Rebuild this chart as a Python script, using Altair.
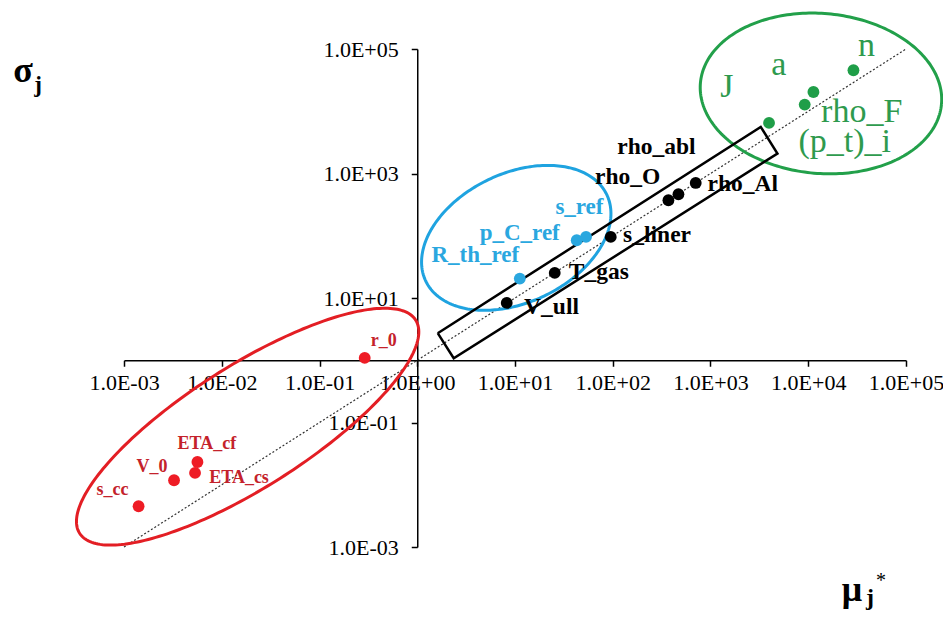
import numpy as np
import pandas as pd
import altair as alt

# ---------------- geometry ----------------
W, H = 782, 498
PAD = {"left": 116, "top": 41, "right": 37, "bottom": 65}
PPD_X = W / 8.0   # pixels per decade
PPD_Y = H / 8.0
FONT = "Liberation Serif"

# ---------------- data ----------------
x_ticks = [1e-3, 1e-2, 1e-1, 1e0, 1e1, 1e2, 1e3, 1e4, 1e5]
y_ticks = [1e-3, 1e-1, 1e1, 1e3, 1e5]

names = ["s_cc", "V_0", "ETA_cs", "ETA_cf", "r_0",
         "R_th_ref", "p_C_ref", "s_ref",
         "V_ull", "T_gas", "s_liner", "rho_O", "rho_abl", "rho_Al",
         "(p_t)_i", "rho_F", "a", "n"]
mu = [0.00141, 0.00325, 0.00533, 0.00564, 0.290,
      11.2, 42.8, 53.3,
      8.23, 25.5, 95.4, 371, 470, 706,
      3970, 9200, 11300, 29000]
sigma = [0.00452, 0.0118, 0.0155, 0.0232, 1.09,
         20.5, 84.7, 95.7,
         8.33, 25.3, 95.7, 372, 464, 705,
         6490, 12800, 20400, 45600]
group = ["red"] * 5 + ["blue"] * 3 + ["black"] * 6 + ["green"] * 4

# label offsets (pixels, text centre x / baseline y relative to the point)
label_dx = [-26, -22, 44, 9.5, 19, -44.5, -57, -6.6, 44.8, 44, 46.3, -40.7, -22, 47, 75.7, 57, -34.7, 13]
label_dy = [-11, -8.3, 10, -13, -12, -16.6, 0, -22.7, 11.3, 5.6, 5, -16.7, -40.7, 8, 29, 17.4, -16.7, -14]

extra_label = ["J"]
extra_mu = [1466]
extra_sigma = [16980]

point_color = {"red": "#EE1C25", "blue": "#2AA7DF", "black": "#000000", "green": "#1F9E48"}
text_color = {"red": "#C4222B", "blue": "#2AA7DF", "black": "#000000", "green": "#2E9A4E"}
text_size = {"red": 18, "blue": 23, "black": 23.5, "green": 34}

# ellipses: centre (data), semi axes (px), rotation (deg)
ell_name = ["red", "blue", "green"]
ell_cx = [0.0184, 10.3, 13490]
ell_cy = [0.0857, 92.5, 19300]
ell_a = [199, 100.3, 121]
ell_b = [61, 64.5, 80]
ell_ang = [32.4, 25.5, -5]
ell_color = ["#E31E24", "#1FA3E0", "#22A04A"]

# rotated rectangle corners (data)
rect_x = [1.62, 2.36, 4840, 3266, 1.62]
rect_y = [2.72, 1.077, 2092, 5596, 2.72]

diag_v = [1e-3, 1e5]

# ---------------- frames ----------------
pts = pd.DataFrame({"x": mu, "y": sigma, "name": names, "g": group})
pts["col"] = pts["g"].map(point_color)

lab = pts.copy()
lab["x"] = [m * 10 ** (dx / PPD_X) for m, dx in zip(mu, label_dx)]
lab["y"] = [s * 10 ** (-dy / PPD_Y) for s, dy in zip(sigma, label_dy)]
lab["tcol"] = lab["g"].map(text_color)
lab["fs"] = lab["g"].map(text_size)
lab = pd.concat([lab, pd.DataFrame({"x": extra_mu, "y": extra_sigma, "name": extra_label,
                                    "g": ["green"], "tcol": [text_color["green"]],
                                    "fs": [text_size["green"]]})], ignore_index=True)
lab_bold = lab[lab["g"] != "green"]
lab_green = lab[lab["g"] == "green"]

rows = []
t = np.linspace(0, 2 * np.pi, 241)
for nm, cx, cy, a, b, ang, c in zip(ell_name, ell_cx, ell_cy, ell_a, ell_b, ell_ang, ell_color):
    th = np.radians(ang)
    px = a * np.cos(t) * np.cos(th) - b * np.sin(t) * np.sin(th)
    py = a * np.cos(t) * np.sin(th) + b * np.sin(t) * np.cos(th)
    for i, (u, v) in enumerate(zip(px, py)):
        rows.append({"x": cx * 10 ** (u / PPD_X), "y": cy * 10 ** (v / PPD_Y), "i": i, "e": nm, "col": c})
ell = pd.DataFrame(rows)

rect = pd.DataFrame({"x": rect_x, "y": rect_y, "i": list(range(len(rect_x)))})
diag = pd.DataFrame({"x": diag_v, "y": diag_v})

# ---------------- scales / axes ----------------
lab_expr = ("'1.0E' + (round(log(datum.value)/LN10) < 0 ? '-' : '+') + "
            "(abs(round(log(datum.value)/LN10)) < 10 ? '0' : '') + abs(round(log(datum.value)/LN10))")
common_axis = dict(title=None, grid=False, labelExpr=lab_expr, labelFont=FONT, labelFontSize=22,
                   labelColor="black", labelOverlap=False, labelFlush=False, domainColor="black",
                   domainWidth=1.5, tickColor="black", tickWidth=1.5, tickSize=6)
sx = alt.Scale(type="log", domain=[1e-3, 1e5], nice=False)
sy = alt.Scale(type="log", domain=[1e-3, 1e5], nice=False)
X = alt.X("x:Q", scale=sx, axis=alt.Axis(values=x_ticks, orient="bottom", offset=-(H * 3 / 8),
                                          labelPadding=6, **common_axis))
Y = alt.Y("y:Q", scale=sy, axis=alt.Axis(values=y_ticks, orient="left", offset=-(W * 3 / 8),
                                          labelPadding=13, **common_axis))

diag_l = alt.Chart(diag).mark_line(color="#333333", strokeWidth=1.2, strokeDash=[2, 2]).encode(x=X, y=Y)
ell_l = alt.Chart(ell).mark_line(strokeWidth=3).encode(
    x=X, y=Y, order="i:Q", detail="e:N", color=alt.Color("col:N", scale=None))
rect_l = alt.Chart(rect).mark_line(color="black", strokeWidth=2.5).encode(x=X, y=Y, order="i:Q")
pts_l = alt.Chart(pts).mark_circle(size=140, opacity=1).encode(
    x=X, y=Y, color=alt.Color("col:N", scale=None))
lab_b = alt.Chart(lab_bold).mark_text(font=FONT, fontWeight="bold", align="center", baseline="alphabetic").encode(
    x=X, y=Y, text="name:N", color=alt.Color("tcol:N", scale=None), size=alt.Size("fs:Q", scale=None))
lab_g = alt.Chart(lab_green).mark_text(font=FONT, align="center", baseline="alphabetic").encode(
    x=X, y=Y, text="name:N", color=alt.Color("tcol:N", scale=None), size=alt.Size("fs:Q", scale=None))

def title_text(s, x, y, size, bold=True):
    return alt.Chart(pd.DataFrame({"t": [s]})).mark_text(
        font=FONT, fontSize=size, fontWeight="bold" if bold else "normal",
        align="center", baseline="alphabetic", color="black").encode(
        x=alt.value(x), y=alt.value(y), text="t:N")

titles = [
    title_text("σ", -101, 33, 36),
    title_text("j", -86, 43, 23),
    title_text("μ", 728, 552, 36),
    title_text("j", 746, 556, 24),
    title_text("*", 757, 538, 20, bold=False),
]

chart = alt.layer(diag_l, ell_l, rect_l, pts_l, lab_b, lab_g, *titles).properties(
    width=W, height=H, padding=PAD, autosize=alt.AutoSizeParams(type="none"),
    background="white",
).configure_view(stroke=None)

chart.save("out.html", embed_options={"renderer": "svg", "actions": False})
